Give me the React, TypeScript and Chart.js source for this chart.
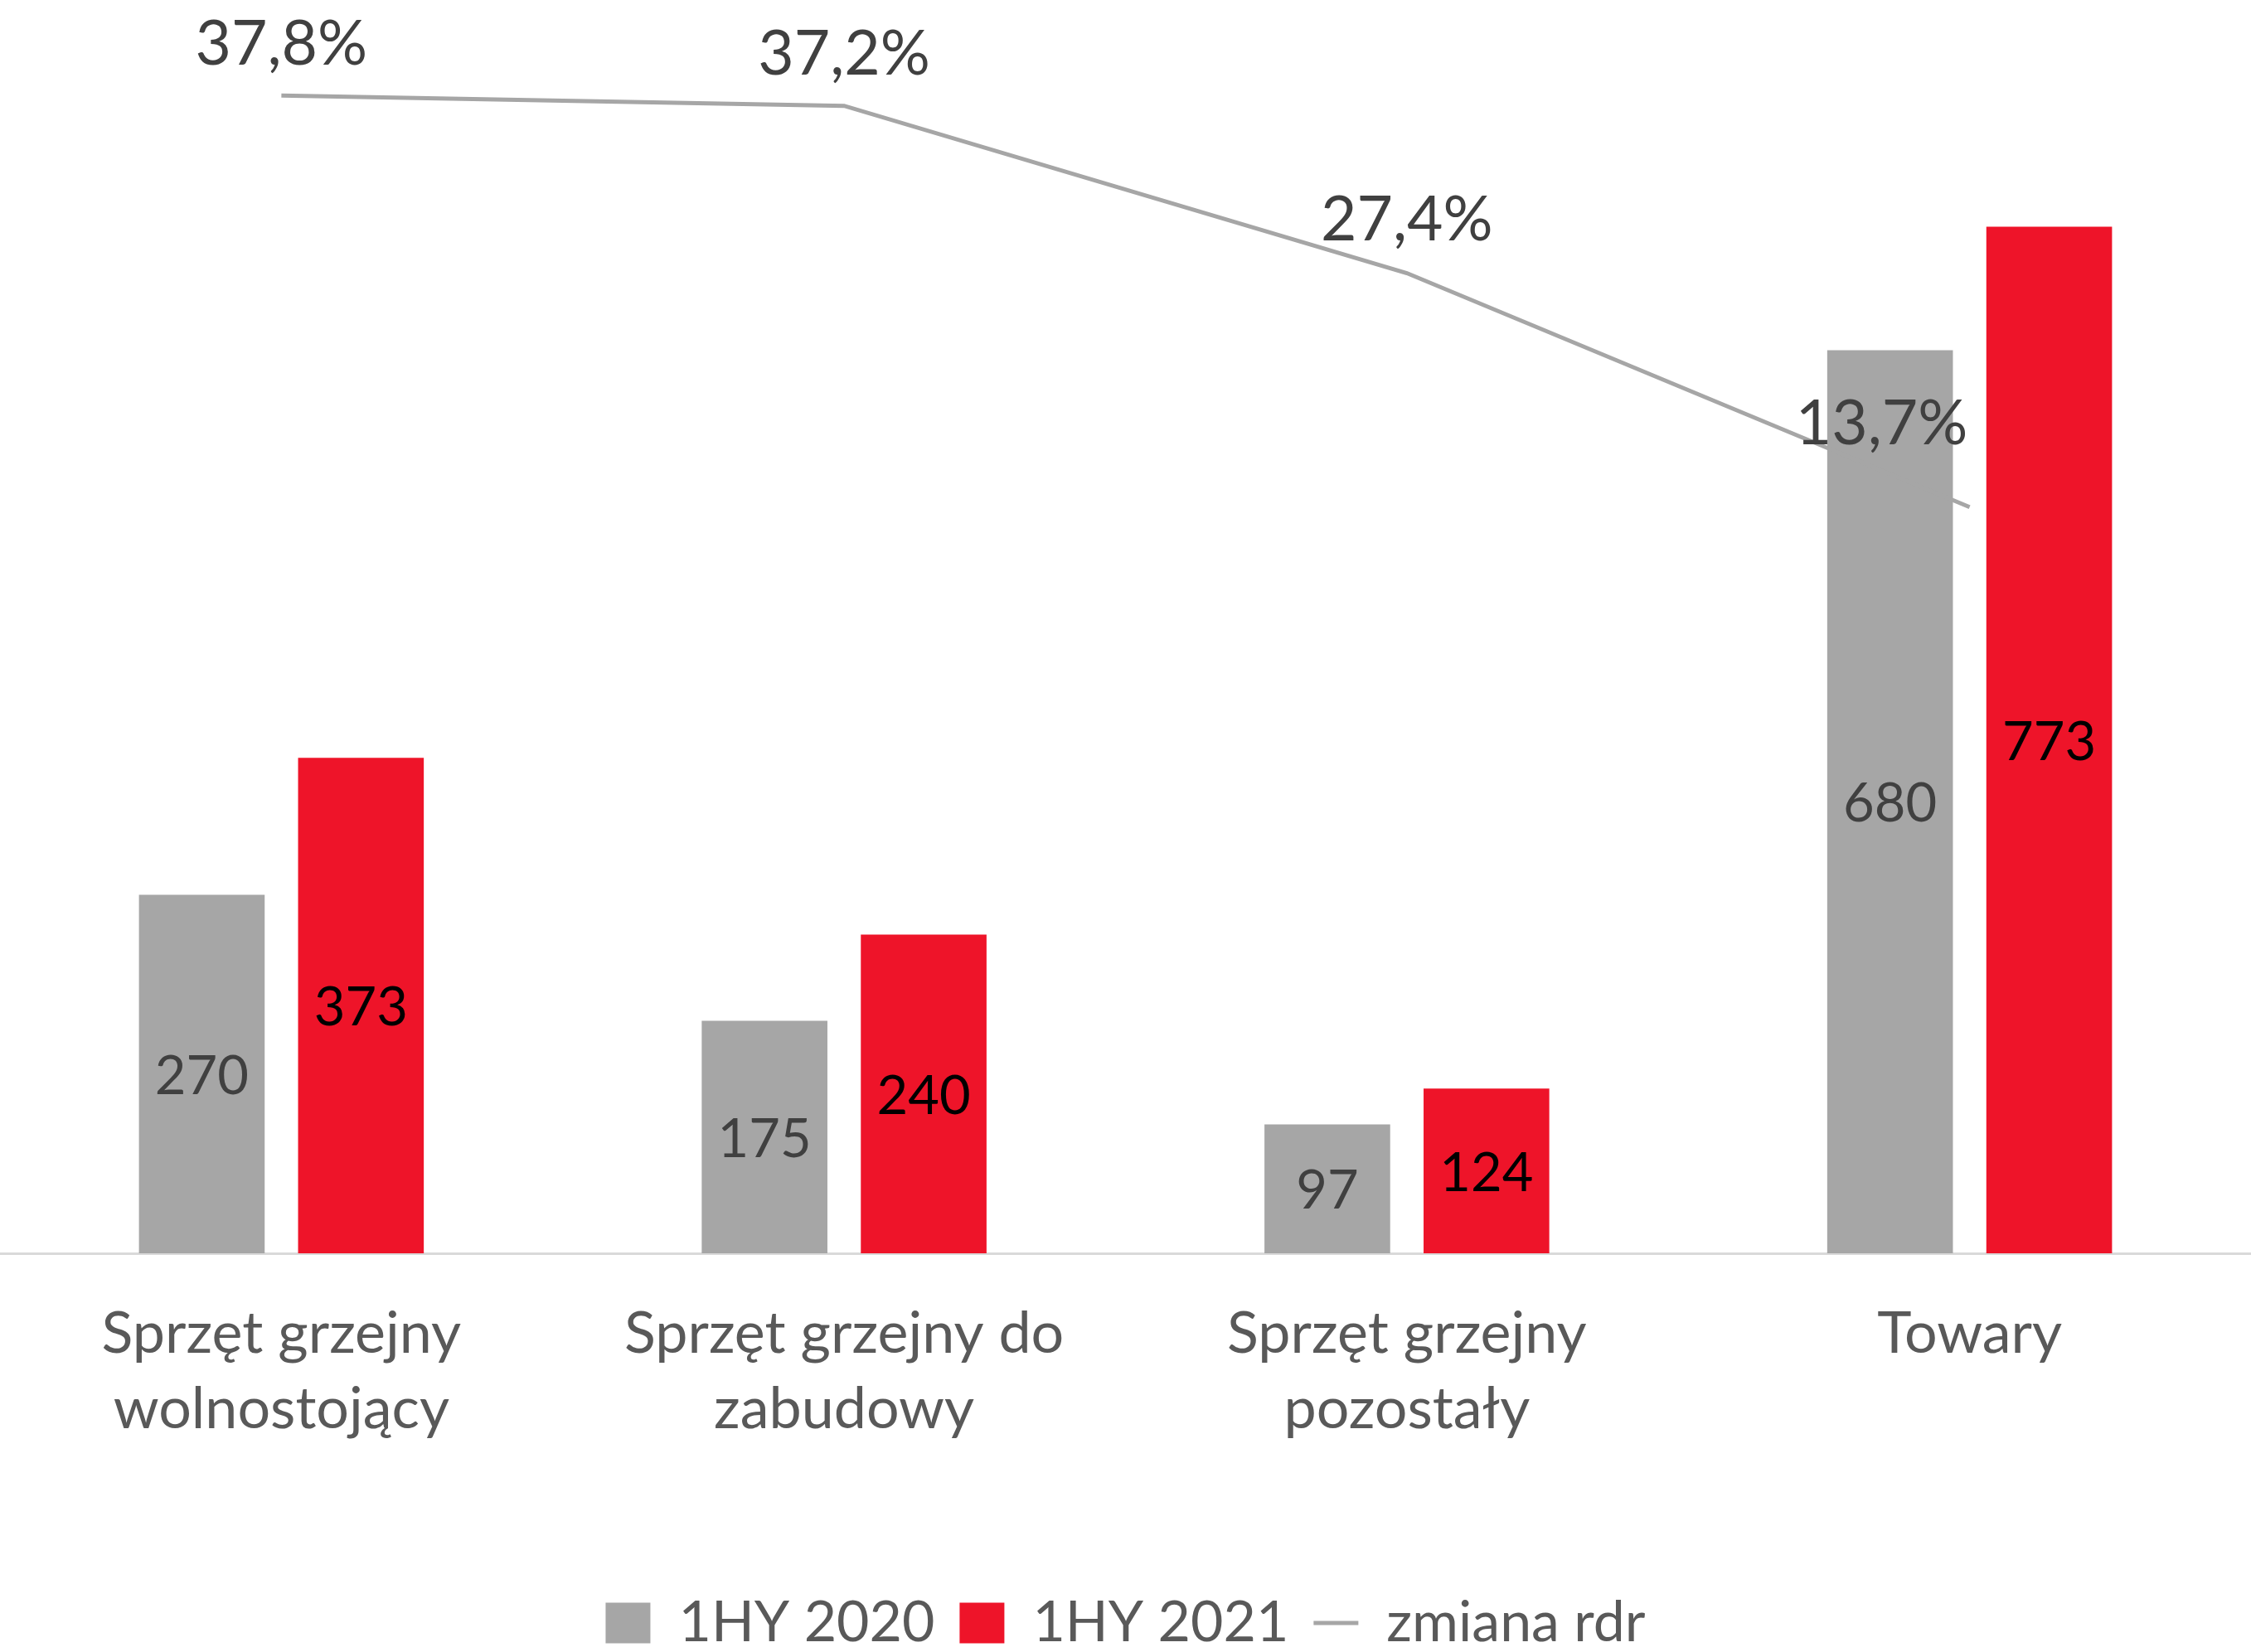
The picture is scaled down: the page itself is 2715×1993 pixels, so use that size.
import React, { useEffect, useRef } from 'react';
import { Chart, registerables } from 'chart.js';

Chart.register(...registerables);

const categories: string[][] = [
  ['Sprzęt grzejny', 'wolnostojący'],
  ['Sprzęt grzejny do', 'zabudowy'],
  ['Sprzęt grzejny', 'pozostały'],
  ['Towary'],
];
const series2020 = [270, 175, 97, 680];
const series2021 = [373, 240, 124, 773];
const changeYoY = [37.8, 37.2, 27.4, 13.7];
const seriesNames = ['1HY 2020', '1HY 2021', 'zmiana rdr'];

// label placement offsets (style only), in px
const lineLabelDx = [0, 0, 0, -106];
const lineLabelDy = [-62, -62, -64, -100];

const GRAY = '#A6A6A6';
const RED = '#EE1429';
const FONT = 'Lato';
const FS = 70;

const labelsPlugin = {
  id: 'valueLabels',
  afterDatasetsDraw(chart: any) {
    const ctx = chart.ctx;
    ctx.save();
    ctx.textAlign = 'center';
    ctx.textBaseline = 'middle';
    chart.data.datasets.forEach((ds: any, i: number) => {
      const meta = chart.getDatasetMeta(i);
      meta.data.forEach((el: any, j: number) => {
        const v = ds.data[j];
        if (ds.type === 'line') {
          ctx.font = `75px ${FONT}`;
          ctx.fillStyle = '#404040';
          ctx.fillText(v.toFixed(1).replace('.', ',') + '%', el.x + lineLabelDx[j], el.y + lineLabelDy[j]);
        } else {
          ctx.font = `65px ${FONT}`;
          ctx.fillStyle = i === 0 ? '#404040' : '#000000';
          ctx.fillText(String(v), el.x, (el.y + el.base) / 2 + 3);
        }
      });
    });
    ctx.restore();
  },
};

export default function App() {
  const ref = useRef<HTMLCanvasElement>(null);
  useEffect(() => {
    if (!ref.current) return;
    const chart = new Chart(ref.current, {
      type: 'bar',
      data: {
        labels: categories as any,
        datasets: [
          {
            type: 'bar',
            label: seriesNames[0],
            data: series2020,
            backgroundColor: GRAY,
            borderWidth: 0,
            yAxisID: 'y',
            order: 1,
            categoryPercentage: 0.5655,
            barPercentage: 0.79,
            pointStyle: 'rect',
          } as any,
          {
            type: 'bar',
            label: seriesNames[1],
            data: series2021,
            backgroundColor: RED,
            borderWidth: 0,
            yAxisID: 'y',
            order: 1,
            categoryPercentage: 0.5655,
            barPercentage: 0.79,
            pointStyle: 'rect',
          } as any,
          {
            type: 'line',
            label: seriesNames[2],
            data: changeYoY,
            borderColor: GRAY,
            backgroundColor: GRAY,
            borderWidth: 5,
            pointRadius: 0,
            pointStyle: 'line',
            tension: 0,
            yAxisID: 'y1',
            order: 0,
          } as any,
        ],
      },
      options: {
        responsive: false,
        animation: false,
        devicePixelRatio: 1,
        layout: { padding: { top: 70, left: 0, right: 0, bottom: -9 } },
        font: { family: FONT, size: FS },
        plugins: {
          tooltip: { enabled: false },
          legend: {
            position: 'bottom',
            labels: {
              usePointStyle: true,
              boxHeight: 49,
              boxWidth: 49,
              pointStyleWidth: 54,
              padding: 30,
              color: '#595959',
              font: { family: FONT, size: 68 },
              sort: (a: any, b: any) => a.datasetIndex - b.datasetIndex,
            },
          },
        },
        scales: {
          x: {
            grid: { display: false, drawTicks: false },
            border: { display: true, color: '#D9D9D9', width: 3 },
            ticks: {
              color: '#595959',
              font: { family: FONT, size: FS, lineHeight: 1.3 },
              padding: 52,
              maxRotation: 0,
              autoSkip: false,
            },
            afterFit: (scale: any) => {
              scale.height = 382;
            },
          },
          y: {
            display: false,
            min: 0,
            max: 900,
          },
          y1: {
            display: false,
            position: 'right',
            min: -30,
            max: 40,
          },
        },
      } as any,
      plugins: [labelsPlugin],
    });
    return () => chart.destroy();
  }, []);
  return (
    <div style={{ position: 'absolute', left: 0, top: 0, width: 2715, height: 1993, background: '#fff' }}>
      <canvas ref={ref} width={2715} height={1993} style={{ width: 2715, height: 1993, display: 'block' }} />
    </div>
  );
}
